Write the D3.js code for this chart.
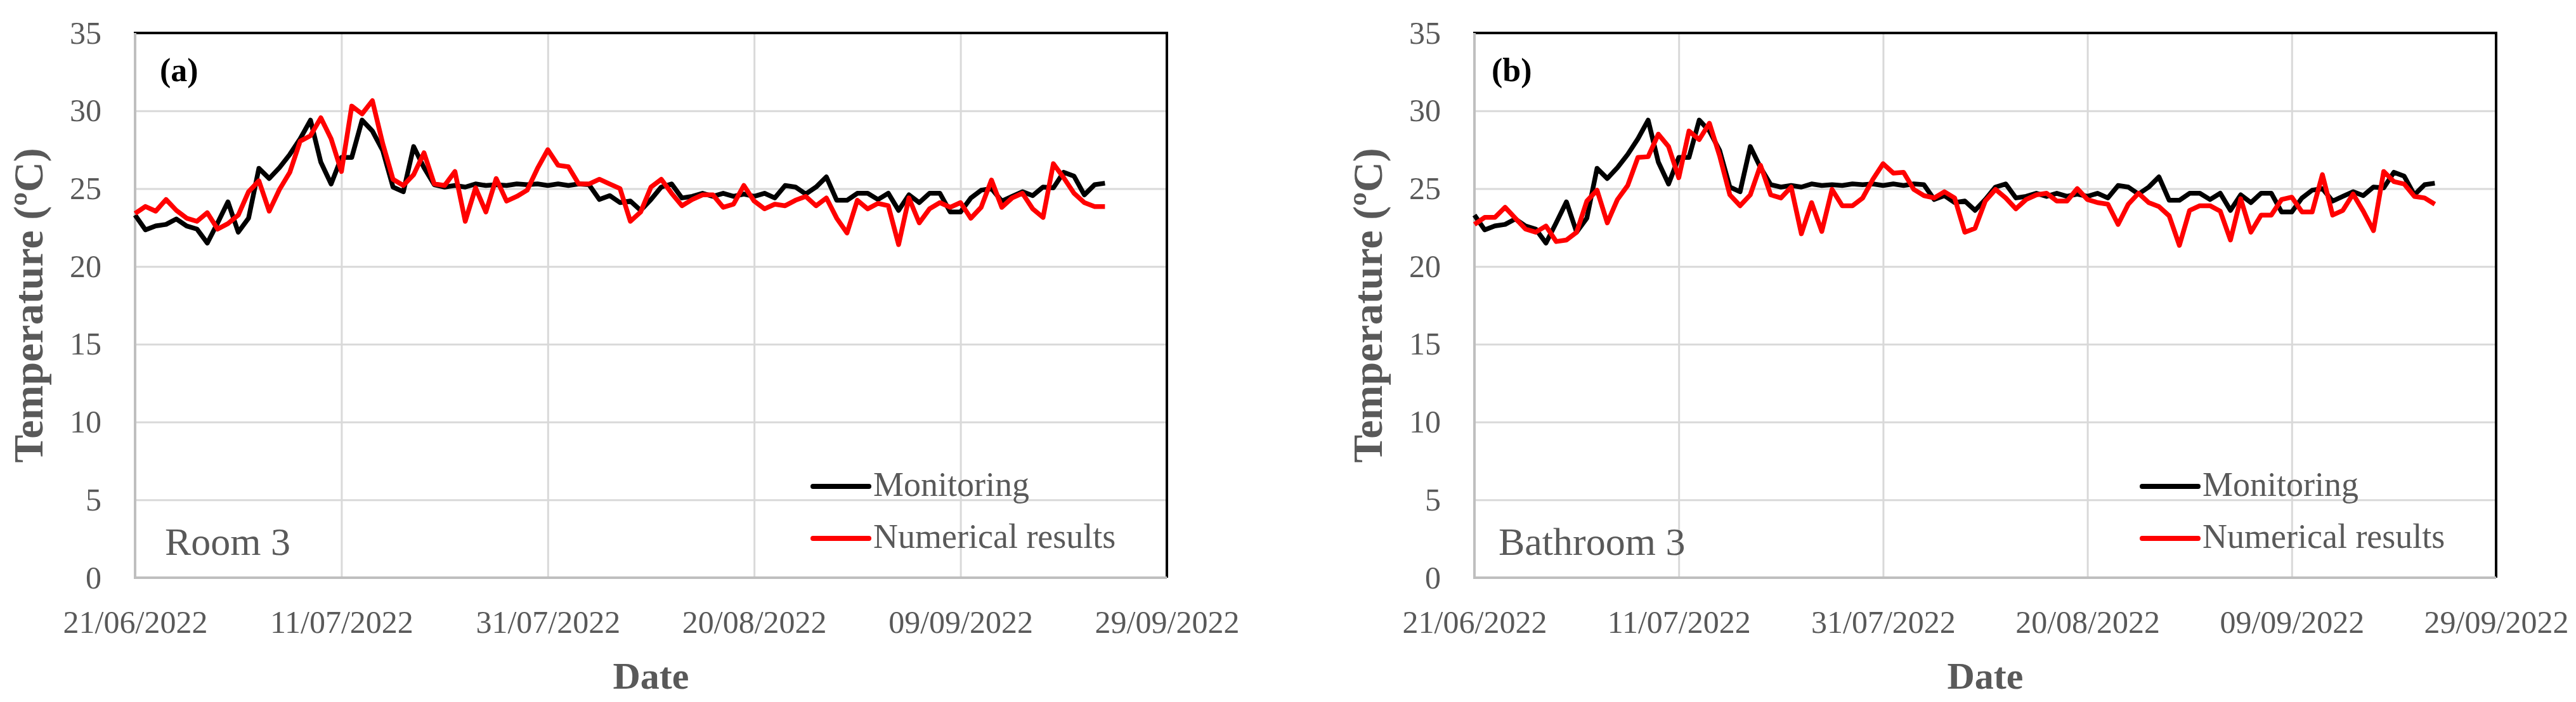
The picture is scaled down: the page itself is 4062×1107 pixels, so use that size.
<!DOCTYPE html>
<html lang="en">
<head>
    <meta charset="UTF-8">
    <title>Temperature - Room 3 / Bathroom 3</title>
    <style>
        body { margin: 0; padding: 0; background: #ffffff; }
        svg { display: block; }
        text { font-family: "Liberation Serif", "DejaVu Serif", serif; fill: #595959; }
    </style>
    <script src="https://d3js.org/d3.v7.min.js"></script>
</head>
<body>
    <svg id="chart" width="4062" height="1107"></svg>

    <script>
        // daily series, 21/06/2022 .. 23/09/2022
        const startDay = "2022-06-21";

        const monitoring = [
            23.3, 22.35, 22.6, 22.7, 23.05, 22.6, 22.4, 21.5, 22.8, 24.15,
            22.2, 23.1, 26.3, 25.65, 26.35, 27.2, 28.2, 29.4, 26.7, 25.3,
            27.0, 27.0, 29.4, 28.7, 27.45, 25.1, 24.8, 27.7, 26.35, 25.25,
            25.1, 25.2, 25.1, 25.3, 25.2, 25.25, 25.2, 25.3, 25.25, 25.3,
            25.2, 25.3, 25.2, 25.3, 25.25, 24.3, 24.55, 24.1, 24.2, 23.6,
            24.3, 25.1, 25.3, 24.4, 24.5, 24.7, 24.5, 24.7, 24.5, 24.65,
            24.5, 24.7, 24.4, 25.2, 25.1, 24.65, 25.1, 25.75, 24.25, 24.25,
            24.7, 24.7, 24.3, 24.7, 23.6, 24.6, 24.1, 24.7, 24.7, 23.5,
            23.5, 24.4, 24.9, 25.0, 24.2, 24.5, 24.8, 24.55, 25.1, 25.05,
            26.05, 25.8, 24.6, 25.25, 25.35
        ];

        const numericalRoom = [
            23.4, 23.85, 23.55, 24.3, 23.6, 23.1, 22.9, 23.45, 22.4, 22.75,
            23.3, 24.8, 25.5, 23.55, 24.95, 26.05, 28.05, 28.4, 29.55, 28.2,
            26.1, 30.3, 29.8, 30.65, 27.9, 25.6, 25.2, 25.9, 27.3, 25.3,
            25.2, 26.1, 22.9, 25.05, 23.5, 25.65, 24.2, 24.5, 24.9, 26.3,
            27.5, 26.5, 26.4, 25.3, 25.3, 25.6, 25.3, 25.0, 22.9, 23.5,
            25.1, 25.6, 24.7, 23.9, 24.3, 24.6, 24.6, 23.8, 24.0, 25.2,
            24.2, 23.7, 24.0, 23.9, 24.25, 24.5, 23.9, 24.4, 23.1, 22.15,
            24.25, 23.7, 24.05, 23.9, 21.4, 24.4, 22.8, 23.7, 24.1, 23.8,
            24.1, 23.1, 23.8, 25.55, 23.8, 24.4, 24.7, 23.7, 23.15, 26.6,
            25.7, 24.7, 24.1, 23.85, 23.85
        ];

        const numericalBath = [
            22.7, 23.15, 23.15, 23.8, 23.1, 22.4, 22.2, 22.6, 21.6, 21.7,
            22.2, 24.2, 24.9, 22.8, 24.3, 25.2, 27.0, 27.05, 28.5, 27.7,
            25.7, 28.7, 28.15, 29.2, 27.1, 24.6, 23.9, 24.6, 26.5, 24.6,
            24.4, 25.1, 22.1, 24.1, 22.25, 24.95, 23.9, 23.9, 24.4, 25.6,
            26.6, 26.0, 26.05, 24.95, 24.55, 24.4, 24.8, 24.4, 22.2, 22.45,
            24.2, 24.95, 24.4, 23.7, 24.3, 24.6, 24.7, 24.2, 24.2, 25.0,
            24.3, 24.1, 24.0, 22.7, 24.0, 24.7, 24.1, 23.85, 23.25, 21.35,
            23.6, 23.9, 23.9, 23.55, 21.7, 24.35, 22.2, 23.3, 23.3, 24.3,
            24.45, 23.5, 23.5, 25.9, 23.3, 23.6, 24.65, 23.55, 22.3, 26.1,
            25.45, 25.3, 24.5, 24.4, 24.0
        ];

        const xTickLabels = ["21/06/2022", "11/07/2022", "31/07/2022", "20/08/2022", "09/09/2022", "29/09/2022"];
        const yTicks = [0, 5, 10, 15, 20, 25, 30, 35];
        const seriesNames = ["Monitoring", "Numerical results"];
        const seriesColors = ["#000000", "#ff0000"];

        const parseDMY = d3.timeParse("%d/%m/%Y");
        const fmtDMY = d3.timeFormat("%d/%m/%Y");
        const day0 = d3.timeParse("%Y-%m-%d")(startDay);
        const dates = monitoring.map((_, i) => d3.timeDay.offset(day0, i));
        const xTicks = xTickLabels.map(parseDMY);

        const panels = [
            { left: 213, right: 1840, tag: "(a)", tagDx: 39, name: "Room 3", nameDx: 47, sim: numericalRoom },
            { left: 2325, right: 3936, tag: "(b)", tagDx: 27, name: "Bathroom 3", nameDx: 38, sim: numericalBath }
        ];
        const plotTop = 52, plotBottom = 911;

        const svg = d3.select("#chart");
        svg.append("rect").attr("width", 4062).attr("height", 1107).attr("fill", "#fff");

        panels.forEach(p => {
            const x = d3.scaleTime().domain([xTicks[0], xTicks[xTicks.length - 1]]).range([p.left, p.right]);
            const y = d3.scaleLinear().domain([0, 35]).range([plotBottom, plotTop]);
            const w = p.right - p.left;
            const g = svg.append("g");

            // horizontal grid
            g.append("g")
                .attr("transform", `translate(${p.left},0)`)
                .call(d3.axisLeft(y).tickValues(yTicks).tickSize(-w).tickFormat(""))
                .call(a => a.select(".domain").remove())
                .call(a => a.selectAll("line").attr("stroke", "#d9d9d9").attr("stroke-width", 3));

            // vertical grid
            g.append("g")
                .attr("transform", `translate(0,${plotBottom})`)
                .call(d3.axisBottom(x).tickValues(xTicks).tickSize(-(plotBottom - plotTop)).tickFormat(""))
                .call(a => a.select(".domain").remove())
                .call(a => a.selectAll("line").attr("stroke", "#d9d9d9").attr("stroke-width", 3));

            // plot border: black top/right, grey axes
            g.append("line").attr("x1", p.left - 2).attr("x2", p.right + 2).attr("y1", plotTop).attr("y2", plotTop)
                .attr("stroke", "#000").attr("stroke-width", 4);
            g.append("line").attr("x1", p.right).attr("x2", p.right).attr("y1", plotTop).attr("y2", plotBottom)
                .attr("stroke", "#000").attr("stroke-width", 4);
            g.append("line").attr("x1", p.left).attr("x2", p.left).attr("y1", plotTop).attr("y2", plotBottom + 2)
                .attr("stroke", "#bfbfbf").attr("stroke-width", 4);
            g.append("line").attr("x1", p.left).attr("x2", p.right).attr("y1", plotBottom).attr("y2", plotBottom)
                .attr("stroke", "#bfbfbf").attr("stroke-width", 4);

            // y tick labels
            g.append("g")
                .attr("transform", `translate(${p.left},0)`)
                .call(d3.axisLeft(y).tickValues(yTicks).tickSize(0).tickPadding(53))
                .call(a => a.select(".domain").remove())
                .call(a => a.selectAll("text").attr("font-size", 50).attr("fill", "#595959"));

            // x tick labels
            g.append("g")
                .attr("transform", `translate(0,${plotBottom})`)
                .call(d3.axisBottom(x).tickValues(xTicks).tickSize(0).tickFormat(fmtDMY))
                .call(a => a.select(".domain").remove())
                .call(a => a.selectAll("text").attr("font-size", 50).attr("fill", "#595959")
                    .attr("y", 87).attr("dy", 0));

            // axis titles
            g.append("text")
                .attr("transform", `translate(${p.left - 146},${(plotTop + plotBottom) / 2}) rotate(-90)`)
                .attr("text-anchor", "middle")
                .attr("font-size", 66).attr("font-weight", "bold")
                .text("Temperature (ºC)");
            g.append("text")
                .attr("x", (p.left + p.right) / 2).attr("y", 1086)
                .attr("text-anchor", "middle")
                .attr("font-size", 60).attr("font-weight", "bold")
                .text("Date");

            // series
            const line = d3.line().x((d, i) => x(dates[i])).y(d => y(d));
            [monitoring, p.sim].forEach((vals, k) => {
                g.append("path")
                    .datum(vals)
                    .attr("d", line)
                    .attr("fill", "none")
                    .attr("stroke", seriesColors[k])
                    .attr("stroke-width", 7.5)
                    .attr("stroke-linejoin", "round");
            });

            // panel tag and name
            g.append("text").attr("x", p.left + p.tagDx).attr("y", 128)
                .attr("font-size", 52).attr("font-weight", "bold").style("fill", "#000")
                .text(p.tag);
            g.append("text").attr("x", p.left + p.nameDx).attr("y", 875)
                .attr("font-size", 62)
                .text(p.name);

            // legend
            const lx = p.right - 558;
            seriesNames.forEach((name, k) => {
                const ly = 767 + k * 82;
                g.append("line").attr("x1", lx).attr("x2", lx + 88).attr("y1", ly).attr("y2", ly)
                    .attr("stroke", seriesColors[k]).attr("stroke-width", 8).attr("stroke-linecap", "round");
                g.append("text").attr("x", lx + 95).attr("y", ly + 15)
                    .attr("font-size", 54)
                    .text(name);
            });
        });

        // axis generator sets its own font; let the stylesheet serif apply
        svg.selectAll("g").filter(function () { return this.getAttribute("font-family"); })
            .attr("font-family", null).attr("font-size", null);
    </script>
</body>
</html>
